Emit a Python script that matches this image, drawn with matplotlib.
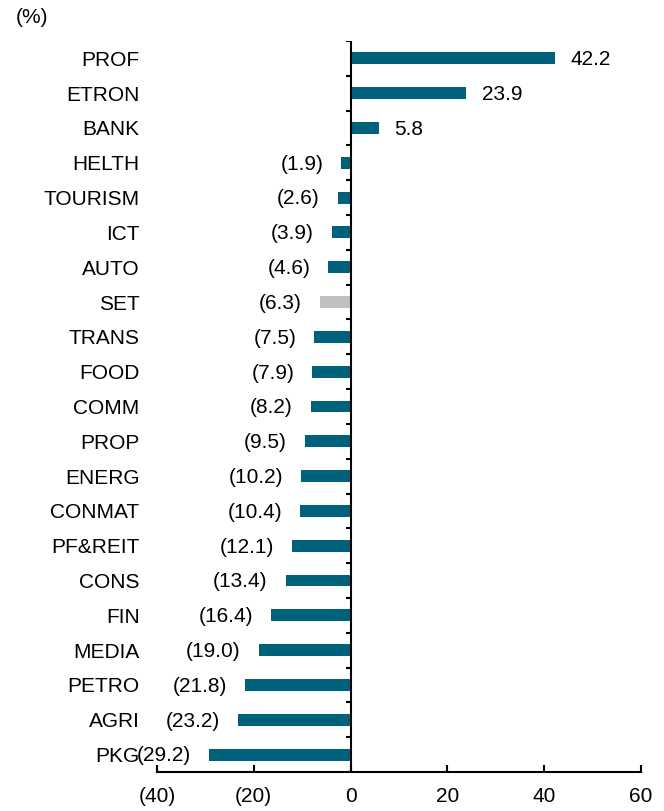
import matplotlib
matplotlib.use("Agg")
import numpy as np
from matplotlib import pyplot as plt
from matplotlib.ticker import FuncFormatter

plt.rcParams['font.family'] = ['Liberation Sans', 'DejaVu Sans']

# sector returns (%)
sectors = ["PROF", "ETRON", "BANK", "HELTH", "TOURISM", "ICT", "AUTO", "SET",
           "TRANS", "FOOD", "COMM", "PROP", "ENERG", "CONMAT", "PF&REIT",
           "CONS", "FIN", "MEDIA", "PETRO", "AGRI", "PKG"]
values = [42.2, 23.9, 5.8, -1.9, -2.6, -3.9, -4.6, -6.3, -7.5, -7.9, -8.2,
          -9.5, -10.2, -10.4, -12.1, -13.4, -16.4, -19.0, -21.8, -23.2, -29.2]
highlight = "SET"

teal = "#00627A"
grey = "#BFBFBF"
FS = 15.0


def fmt(v):
    return f"({abs(v):.1f})" if v < 0 else f"{v:.1f}"


fig = plt.figure(figsize=(6.64, 8.11), dpi=100)
ax = fig.add_axes([0.2364, 0.0481, 0.729, 0.9014])

y = np.arange(len(sectors))
colors = [grey if s == highlight else teal for s in sectors]
ax.barh(y, values, height=0.34, color=colors)

for yi, v in zip(y, values):
    if v >= 0:
        ax.annotate(fmt(v), (v, yi), xytext=(11, -1), textcoords="offset points",
                    ha="left", va="center", fontsize=FS)
    else:
        ax.annotate(fmt(v), (v, yi), xytext=(-13, -1), textcoords="offset points",
                    ha="right", va="center", fontsize=FS)

ax.set_xlim(-40, 60)
ax.set_ylim(len(sectors) - 0.5, -0.5)
ax.set_xticks([-40, -20, 0, 20, 40, 60])
ax.xaxis.set_major_formatter(FuncFormatter(
    lambda v, p: f"({abs(v):.0f})" if v < 0 else f"{v:.0f}"))
ax.tick_params(axis="x", direction="in", length=5, width=1.5, labelsize=FS, pad=11)

ax.set_yticks(y)
ax.set_yticklabels(sectors, fontsize=FS)
ax.tick_params(axis="y", length=0, pad=12.5)

for s in ["top", "right", "left"]:
    ax.spines[s].set_visible(False)
ax.spines["bottom"].set_linewidth(1.5)

# vertical axis at zero with outward ticks at category boundaries
ax.axvline(0, color="black", lw=1.5, zorder=3)
bounds = np.arange(len(sectors) + 1) - 0.5
ax.hlines(bounds, -0.9, 0, color="black", lw=1.5, zorder=3)

fig.text(0.024, 0.978, "(%)", fontsize=FS, ha="left", va="center")

fig.savefig("out.png", dpi=100)
